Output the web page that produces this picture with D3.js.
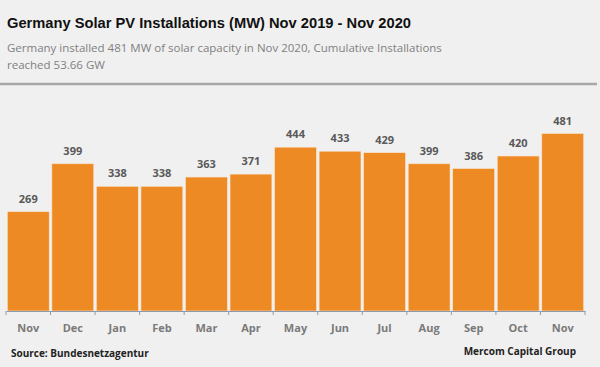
<!DOCTYPE html>
<html><head><meta charset="utf-8">
<script src="https://cdn.jsdelivr.net/npm/d3@7"></script>
<style>html,body{margin:0;padding:0;background:#f0f0f0;}svg{display:block;}</style>
</head><body>
<script>
const categories = ["Nov","Dec","Jan","Feb","Mar","Apr","May","Jun","Jul","Aug","Sep","Oct","Nov"];
const values = [269,399,338,338,363,371,444,433,429,399,386,420,481];
const title = "Germany Solar PV Installations (MW) Nov 2019 - Nov 2020";
const subtitle = ["Germany installed  481 MW of solar capacity in Nov 2020, Cumulative  Installations","reached 53.66 GW"];
const source = "Source: Bundesnetzagentur";
const credit = "Mercom Capital Group";

const W=600,H=367;
const svg=d3.select("body").append("svg").attr("width",W).attr("height",H);
svg.append("rect").attr("width",W).attr("height",H).attr("fill","#f0f0f0");

svg.append("text").attr("x",7).attr("y",28).attr("font-family","Liberation Sans, Arial, sans-serif")
  .attr("font-weight","bold").attr("font-size",14.7).attr("fill","#111").text(title);
subtitle.forEach((s,i)=>svg.append("text").attr("x",7).attr("y",52+i*17)
  .attr("font-family","Open Sans, sans-serif").attr("font-size",11.5).attr("fill","#808080").text(s));
svg.append("line").attr("x1",0).attr("x2",597).attr("y1",84).attr("y2",84).attr("stroke","#a8a8a8").attr("stroke-width",2.5);

const x=d3.scaleBand().domain(d3.range(categories.length)).range([6,585]).paddingInner(0.06).paddingOuter(0.03);
const y=d3.scaleLinear().domain([0,500]).range([311,311-0.369*500]);

svg.selectAll("rect.bar").data(values).join("rect").attr("class","bar")
  .attr("x",(d,i)=>x(i)).attr("width",x.bandwidth()).attr("y",d=>y(d)).attr("height",d=>y(0)-y(d))
  .attr("fill","#ee8a23").attr("stroke","#f6e3cf").attr("stroke-width",0.6);

svg.selectAll("text.lab").data(values).join("text").attr("class","lab")
  .attr("x",(d,i)=>x(i)+x.bandwidth()/2).attr("y",d=>y(d)-9).attr("text-anchor","middle")
  .attr("font-family","Open Sans, sans-serif").attr("font-weight","bold").attr("font-size",11).attr("fill","#595959").text(d=>d);

const ax=svg.append("g").attr("transform","translate(0,311)")
  .call(d3.axisBottom(x).tickFormat(i=>categories[i]).tickSize(0).tickPadding(0));
ax.select(".domain").attr("stroke","#8c9bb0").attr("stroke-width",1.2);
ax.selectAll(".tick text").attr("y",21).attr("dy",0).attr("font-family","Open Sans, sans-serif").attr("font-size",11).attr("font-weight","bold").attr("fill","#7a7a7a");
ax.selectAll("line.sep").data(d3.range(categories.length+1)).join("line").attr("class","sep")
  .attr("x1",i=>6+i*(579/categories.length)).attr("x2",i=>6+i*(579/categories.length))
  .attr("y1",0).attr("y2",4).attr("stroke","#8c9bb0");

svg.append("text").attr("x",11).attr("y",357).attr("font-family","Open Sans, sans-serif").attr("font-weight","bold").attr("font-size",10).attr("fill","#222").text(source);
svg.append("text").attr("x",576).attr("y",355).attr("text-anchor","end").attr("font-family","Open Sans, sans-serif").attr("font-weight","bold").attr("font-size",10).attr("fill","#222").text(credit);
</script>
</body></html>
